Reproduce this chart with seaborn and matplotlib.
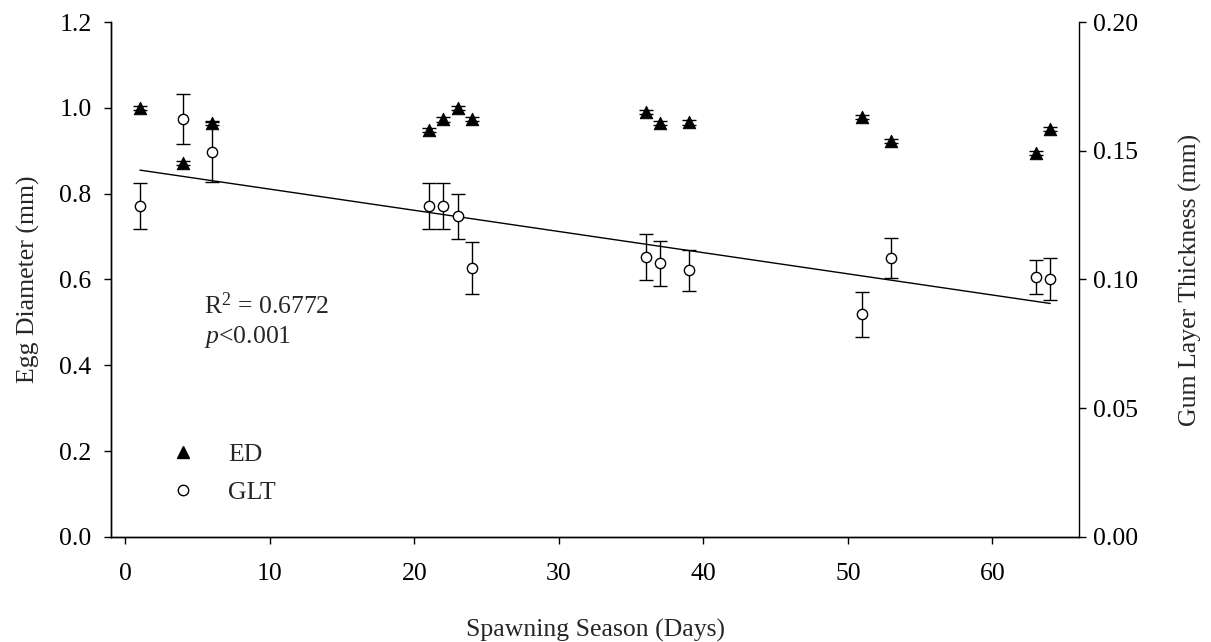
import numpy as np
import pandas as pd
import seaborn as sns
import matplotlib.pyplot as plt
from matplotlib.lines import Line2D

# spawning day
days = [1, 4, 6, 21, 22, 23, 24, 36, 37, 39, 51, 53, 63, 64]

# egg diameter (mm) and its error
ed = [1.000, 0.871, 0.965, 0.948, 0.973, 0.999, 0.974, 0.991, 0.965, 0.966, 0.978, 0.923, 0.894, 0.950]
ed_err = [0.005] * 14

# gum layer thickness (mm) and its error
glt = [0.1285, 0.1625, 0.1495, 0.1285, 0.1285, 0.1245, 0.1045, 0.1087, 0.1063, 0.1035, 0.0865, 0.1085, 0.1010, 0.1002]
glt_err = [0.0089, 0.0097, 0.0115, 0.0090, 0.0088, 0.0088, 0.0100, 0.0090, 0.0088, 0.0080, 0.0088, 0.0078, 0.0066, 0.0080]

df = pd.DataFrame({'day': days, 'ED': ed, 'ED_err': ed_err, 'GLT': glt, 'GLT_err': glt_err})

sns.set_style("ticks")
plt.rcParams['font.family'] = ['Liberation Serif', 'DejaVu Serif']
plt.rcParams['mathtext.fontset'] = 'custom'
plt.rcParams['mathtext.rm'] = 'Liberation Serif'
plt.rcParams['mathtext.it'] = 'Liberation Serif:italic'
fs = 18.5

fig = plt.figure(figsize=(12.11, 6.42), dpi=100)
ax = fig.add_axes([0.0917, 0.1636, 0.7994, 0.8021])
ax2 = ax.twinx()

# GLT on right axis
ax2.errorbar(df['day'], df['GLT'], yerr=df['GLT_err'], fmt='none', ecolor='black',
             elinewidth=1, capsize=5, capthick=1)
sns.scatterplot(data=df, x='day', y='GLT', ax=ax2, marker='o', s=55,
                facecolor='white', edgecolor='black', linewidth=1, zorder=3)
sns.regplot(data=df, x='day', y='GLT', ax=ax2, scatter=False, ci=None,
            color='black', line_kws={'lw': 1})

# ED on left axis, drawn on top
ax.errorbar(df['day'], df['ED'], yerr=df['ED_err'], fmt='none', ecolor='black',
            elinewidth=1, capsize=5, capthick=1)
sns.scatterplot(data=df, x='day', y='ED', ax=ax, marker='^', s=80,
                color='black', edgecolor='black', zorder=3)
ax.set_zorder(ax2.get_zorder() + 1)
ax.patch.set_visible(False)

ax.set_xlim(-1, 66)
ax.set_ylim(0, 1.2)
ax2.set_ylim(0, 0.2)
ax.set_xticks(range(0, 70, 10))
ax.set_yticks(np.arange(0, 1.21, 0.2))
ax.set_yticklabels([f'{v:.1f}' for v in np.arange(0, 1.21, 0.2)])
ax2.set_yticks(np.arange(0, 0.201, 0.05))
ax2.set_yticklabels([f'{v:.2f}' for v in np.arange(0, 0.201, 0.05)])

for a in (ax, ax2):
    a.spines['top'].set_visible(False)
    for s in a.spines.values():
        s.set_linewidth(1)
        s.set_color('black')
    a.tick_params(direction='out', length=5, width=1, labelsize=fs, colors='black', pad=5)
ax.spines['right'].set_visible(False)
ax.tick_params(axis='x', pad=14)
ax.tick_params(axis='y', pad=9)

ax.set_xlabel('Spawning Season (Days)', fontsize=fs, labelpad=24)
ax.set_ylabel('Egg Diameter (mm)', fontsize=fs, labelpad=14)
ax2.set_ylabel('Gum Layer Thickness (mm)', fontsize=fs, labelpad=29)

ax.text(5.4, 0.539, 'R$^2$ = 0.6772', fontsize=fs, va='center')
ax.text(5.4, 0.467, '$p$<0.001', fontsize=fs, va='center')

handles = [Line2D([], [], marker='^', ls='none', color='black', markersize=9),
           Line2D([], [], marker='o', ls='none', markerfacecolor='white',
                  markeredgecolor='black', markersize=7.5)]
ax.legend(handles, ['ED', 'GLT'], loc='lower left', bbox_to_anchor=(0.061, 0.064),
          frameon=False, fontsize=fs, handlelength=1, handletextpad=1.25,
          labelspacing=0.6, borderpad=0, borderaxespad=0)

fig.savefig('out.png', dpi=100)
